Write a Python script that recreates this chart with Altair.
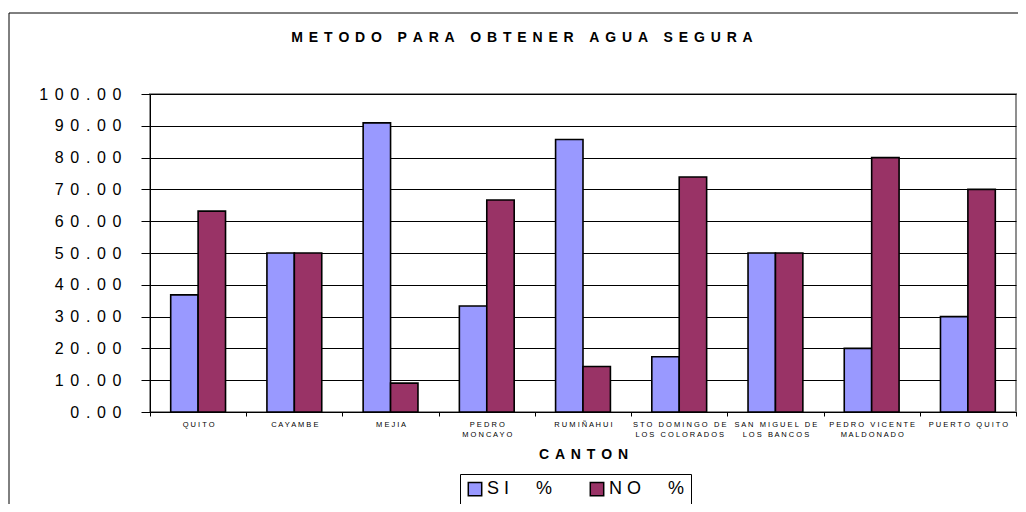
import altair as alt
import pandas as pd

TITLE = "METODO PARA OBTENER AGUA SEGURA"
X_TITLE = "CANTON"

cantons = ["QUITO", "CAYAMBE", "MEJIA", "PEDRO MONCAYO", "RUMIÑAHUI",
           "STO DOMINGO DE LOS COLORADOS", "SAN MIGUEL DE LOS BANCOS",
           "PEDRO VICENTE MALDONADO", "PUERTO QUITO"]
canton_lines = [["QUITO"], ["CAYAMBE"], ["MEJIA"], ["PEDRO", "MONCAYO"], ["RUMIÑAHUI"],
                ["STO DOMINGO DE", "LOS COLORADOS"], ["SAN MIGUEL DE", "LOS BANCOS"],
                ["PEDRO VICENTE", "MALDONADO"], ["PUERTO QUITO"]]
series = ["SI %", "NO %"]
si_values = [36.84, 50.00, 90.91, 33.33, 85.71, 17.39, 50.00, 20.00, 30.00]
no_values = [63.16, 50.00, 9.09, 66.67, 14.29, 73.91, 50.00, 80.00, 70.00]
y_ticks = [0, 10, 20, 30, 40, 50, 60, 70, 80, 90, 100]
colors = ["#9999FF", "#993366"]

GAP = "\u2004\u200a"


def spaced(s, gap):
    # letter-spaced text; word spaces kept as non-collapsing spaces
    return gap.join(ch if ch != " " else "\u00a0" for ch in s)


display = ["|".join(spaced(line, " ") for line in lines) for lines in canton_lines]

rows = []
for name, disp, si, no in zip(cantons, display, si_values, no_values):
    rows.append({"canton": name, "label": disp, "series": series[0], "value": si})
    rows.append({"canton": name, "label": disp, "series": series[1], "value": no})
df = pd.DataFrame(rows)

FONT = "Liberation Sans"

bars = alt.Chart(df).mark_bar(stroke="#000000", strokeWidth=1.6).encode(
    x=alt.X("label:N", sort=display,
            scale=alt.Scale(paddingInner=0, paddingOuter=0),
            axis=alt.Axis(title=spaced(X_TITLE, GAP), titleFontSize=14, titleFontWeight="bold",
                          titleColor="#000", titleY=46, titleBaseline="alphabetic",
                          labelExpr="split(datum.label, '|')", labelFontSize=7.5,
                          labelLineHeight=10, labelPadding=4, labelColor="#000",
                          labelAngle=0, labelOverlap=False, labelLimit=300,
                          tickBand="extent", tickSize=4, tickColor="#000",
                          domainColor="#000", grid=False)),
    xOffset=alt.XOffset("series:N", sort=series,
                        scale=alt.Scale(paddingInner=0, paddingOuter=0.755)),
    y=alt.Y("value:Q", scale=alt.Scale(domain=[0, 100], nice=False),
            axis=alt.Axis(title=None, values=y_ticks,
                          labelExpr="join(split(format(datum.value, '.2f'), ''), '\u2004\u200a')",
                          labelFontSize=16, labelColor="#000", labelPadding=20,
                          tickSize=9, tickColor="#000", domainColor="#000",
                          grid=True, gridColor="#000", gridWidth=1)),
    color=alt.Color("series:N", sort=series,
                    scale=alt.Scale(domain=series, range=colors),
                    legend=alt.Legend(title=None, orient="none", legendX=310, legendY=380,
                                      direction="horizontal", strokeColor="#000",
                                      fillColor="#ffffff", padding=6,
                                      labelFontSize=18, labelColor="#000",
                                      labelExpr="datum.label == 'SI %' ? 'S I\u2003\u2002%' : 'N O\u2003\u2002%'",
                                      symbolType="square", symbolSize=180,
                                      symbolStrokeColor="#000", symbolStrokeWidth=1.5,
                                      labelOffset=3, columnPadding=34)),
)

frame = alt.Chart(pd.DataFrame({"f": [1]})).mark_rect(
    filled=False, stroke="#000000", strokeWidth=1
).encode(x=alt.value(-141), x2=alt.value(1000), y=alt.value(-81), y2=alt.value(800))

title = alt.Chart(pd.DataFrame({"t": [spaced(TITLE, GAP)]})).mark_text(
    fontSize=14, fontWeight="bold", align="center", baseline="alphabetic", color="#000"
).encode(x=alt.value(372), y=alt.value(-52), text="t:N")

chart = alt.layer(frame, bars, title).properties(
    width=866, height=318,
    autosize=alt.AutoSizeParams(type="none"),
    padding={"left": 142, "top": 86, "right": 2, "bottom": 92},
).configure(font=FONT).configure_view(stroke="#8f8f8f", strokeWidth=2)

chart.save("out.html", embed_options={"renderer": "svg", "actions": False})
